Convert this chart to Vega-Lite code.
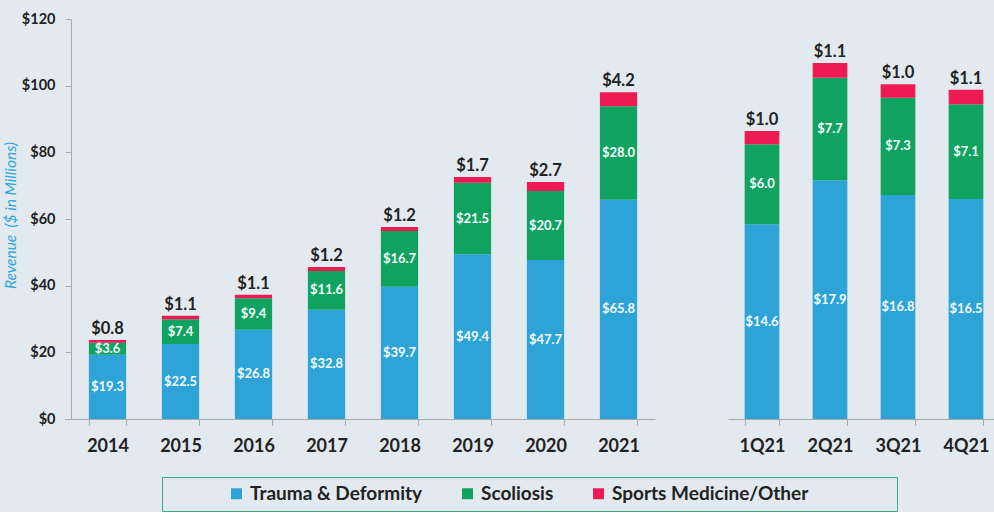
{
  "$schema": "https://vega.github.io/schema/vega-lite/v6.json",
  "background": "#e2eaf0",
  "padding": {"left": 3, "top": 11, "right": 0, "bottom": 0},
  "config": {
    "font": "Lato",
    "view": {"stroke": null},
    "axis": {"domainColor": "#a8a8a8", "tickColor": "#a8a8a8", "grid": false, "labelColor": "#222222", "labelFontWeight": "bold"}
  },
  "datasets": {
    "annual": [
      {"period": "2014", "segment": "Trauma & Deformity", "value": 19.3, "amount": 19.3},
      {"period": "2014", "segment": "Scoliosis", "value": 3.6, "amount": 3.6},
      {"period": "2014", "segment": "Sports Medicine/Other", "value": 0.8, "amount": 0.8},
      {"period": "2015", "segment": "Trauma & Deformity", "value": 22.5, "amount": 22.5},
      {"period": "2015", "segment": "Scoliosis", "value": 7.4, "amount": 7.4},
      {"period": "2015", "segment": "Sports Medicine/Other", "value": 1.1, "amount": 1.1},
      {"period": "2016", "segment": "Trauma & Deformity", "value": 26.8, "amount": 26.8},
      {"period": "2016", "segment": "Scoliosis", "value": 9.4, "amount": 9.4},
      {"period": "2016", "segment": "Sports Medicine/Other", "value": 1.1, "amount": 1.1},
      {"period": "2017", "segment": "Trauma & Deformity", "value": 32.8, "amount": 32.8},
      {"period": "2017", "segment": "Scoliosis", "value": 11.6, "amount": 11.6},
      {"period": "2017", "segment": "Sports Medicine/Other", "value": 1.2, "amount": 1.2},
      {"period": "2018", "segment": "Trauma & Deformity", "value": 39.7, "amount": 39.7},
      {"period": "2018", "segment": "Scoliosis", "value": 16.7, "amount": 16.7},
      {"period": "2018", "segment": "Sports Medicine/Other", "value": 1.2, "amount": 1.2},
      {"period": "2019", "segment": "Trauma & Deformity", "value": 49.4, "amount": 49.4},
      {"period": "2019", "segment": "Scoliosis", "value": 21.5, "amount": 21.5},
      {"period": "2019", "segment": "Sports Medicine/Other", "value": 1.7, "amount": 1.7},
      {"period": "2020", "segment": "Trauma & Deformity", "value": 47.7, "amount": 47.7},
      {"period": "2020", "segment": "Scoliosis", "value": 20.7, "amount": 20.7},
      {"period": "2020", "segment": "Sports Medicine/Other", "value": 2.7, "amount": 2.7},
      {"period": "2021", "segment": "Trauma & Deformity", "value": 65.8, "amount": 65.8},
      {"period": "2021", "segment": "Scoliosis", "value": 28.0, "amount": 28.0},
      {"period": "2021", "segment": "Sports Medicine/Other", "value": 4.2, "amount": 4.2}
    ],
    "quarterly": [
      {"period": "1Q21", "segment": "Trauma & Deformity", "value": 58.4, "amount": 14.6},
      {"period": "1Q21", "segment": "Scoliosis", "value": 24.0, "amount": 6.0},
      {"period": "1Q21", "segment": "Sports Medicine/Other", "value": 4.0, "amount": 1.0},
      {"period": "2Q21", "segment": "Trauma & Deformity", "value": 71.6, "amount": 17.9},
      {"period": "2Q21", "segment": "Scoliosis", "value": 30.8, "amount": 7.7},
      {"period": "2Q21", "segment": "Sports Medicine/Other", "value": 4.4, "amount": 1.1},
      {"period": "3Q21", "segment": "Trauma & Deformity", "value": 67.2, "amount": 16.8},
      {"period": "3Q21", "segment": "Scoliosis", "value": 29.2, "amount": 7.3},
      {"period": "3Q21", "segment": "Sports Medicine/Other", "value": 4.0, "amount": 1.0},
      {"period": "4Q21", "segment": "Trauma & Deformity", "value": 66.0, "amount": 16.5},
      {"period": "4Q21", "segment": "Scoliosis", "value": 28.4, "amount": 7.1},
      {"period": "4Q21", "segment": "Sports Medicine/Other", "value": 4.4, "amount": 1.1}
    ]
  },
  "spacing": 73,
  "hconcat": [
    {
      "width": 584,
      "height": 400,
      "data": {"name": "annual"},
      "transform": [
        {"calculate": "indexof(['Trauma & Deformity','Scoliosis','Sports Medicine/Other'], datum.segment)", "as": "ord"},
        {"stack": "value", "groupby": ["period"], "sort": [{"field": "ord", "order": "ascending"}], "as": ["v0", "v1"]},
        {"calculate": "(datum.v0 + datum.v1) / 2", "as": "mid"}
      ],
      "encoding": {
        "x": {
          "field": "period", "type": "ordinal", "title": null,
          "scale": {"paddingInner": 0.49, "paddingOuter": 0.245},
          "axis": {"labelAngle": 0, "labelFontSize": 18, "labelPadding": 12, "tickSize": 6, "tickBand": "extent"}
        }
      },
      "layer": [
        {
          "mark": {"type": "bar"},
          "encoding": {
            "y": {
              "field": "v0", "type": "quantitative",
              "scale": {"domain": [0, 120]},
              "axis": {
                "values": [0, 20, 40, 60, 80, 100, 120], "format": "$d", "labelFontSize": 14.5, "labelPadding": 10, "tickSize": 6,
                "title": "Revenue\u00a0 ($ in Millions)", "titleFontStyle": "italic", "titleFontWeight": "normal", "titleFontSize": 15.5, "titleColor": "#2fa5da",
                "titleX": -53, "titleY": 196
              }
            },
            "y2": {"field": "v1"},
            "color": {
              "field": "segment", "type": "nominal",
              "scale": {"domain": [" ", "Trauma & Deformity", "Scoliosis", "Sports Medicine/Other"], "range": ["transparent", "#2ea3d8", "#0fa35f", "#ee1a53"]},
              "legend": {
                "orient": "none", "legendX": 91, "legendY": 458, "direction": "horizontal",
                "title": "\u00a0", "titleOrient": "right", "titlePadding": 82, "titleFontSize": 10,
                "strokeColor": "#3cab7d", "padding": 7, "symbolType": "square", "symbolSize": 121, "symbolStrokeWidth": 0,
                "columnPadding": 35,
                "labelFontSize": 19, "labelFontWeight": "bold", "labelColor": "#222222", "labelLimit": 0, "labelOffset": 4
              }
            }
          }
        },
        {
          "transform": [{"filter": "datum.segment != 'Sports Medicine/Other'"}],
          "mark": {"type": "text", "baseline": "middle", "fontSize": 13, "fontWeight": "bold", "color": "#f4fbff"},
          "encoding": {
            "y": {"field": "mid", "type": "quantitative"},
            "text": {"field": "amount", "type": "quantitative", "format": "$.1f"}
          }
        },
        {
          "transform": [{"filter": "datum.segment == 'Sports Medicine/Other'"}],
          "mark": {"type": "text", "baseline": "bottom", "dy": -3, "fontSize": 16.5, "fontWeight": "bold", "color": "#222222"},
          "encoding": {
            "y": {"field": "v1", "type": "quantitative"},
            "text": {"field": "amount", "type": "quantitative", "format": "$.1f"}
          }
        }
      ]
    },
    {
      "width": 272,
      "height": 400,
      "data": {"name": "quarterly"},
      "transform": [
        {"calculate": "indexof(['Trauma & Deformity','Scoliosis','Sports Medicine/Other'], datum.segment)", "as": "ord"},
        {"stack": "value", "groupby": ["period"], "sort": [{"field": "ord", "order": "ascending"}], "as": ["v0", "v1"]},
        {"calculate": "(datum.v0 + datum.v1) / 2", "as": "mid"}
      ],
      "encoding": {
        "x": {
          "field": "period", "type": "ordinal", "title": null,
          "scale": {"paddingInner": 0.49, "paddingOuter": 0.245},
          "axis": {"labelAngle": 0, "labelFontSize": 18, "labelPadding": 12, "tickSize": 6, "tickBand": "extent"}
        }
      },
      "layer": [
        {
          "mark": {"type": "bar"},
          "encoding": {
            "y": {"field": "v0", "type": "quantitative", "scale": {"domain": [0, 120]}, "axis": null},
            "y2": {"field": "v1"},
            "color": {"field": "segment", "type": "nominal", "scale": {"domain": [" ", "Trauma & Deformity", "Scoliosis", "Sports Medicine/Other"], "range": ["transparent", "#2ea3d8", "#0fa35f", "#ee1a53"]}}
          }
        },
        {
          "transform": [{"filter": "datum.segment != 'Sports Medicine/Other'"}],
          "mark": {"type": "text", "baseline": "middle", "fontSize": 13, "fontWeight": "bold", "color": "#f4fbff"},
          "encoding": {
            "y": {"field": "mid", "type": "quantitative"},
            "text": {"field": "amount", "type": "quantitative", "format": "$.1f"}
          }
        },
        {
          "transform": [{"filter": "datum.segment == 'Sports Medicine/Other'"}],
          "mark": {"type": "text", "baseline": "bottom", "dy": -3, "fontSize": 16.5, "fontWeight": "bold", "color": "#222222"},
          "encoding": {
            "y": {"field": "v1", "type": "quantitative"},
            "text": {"field": "amount", "type": "quantitative", "format": "$.1f"}
          }
        }
      ]
    }
  ]
}
